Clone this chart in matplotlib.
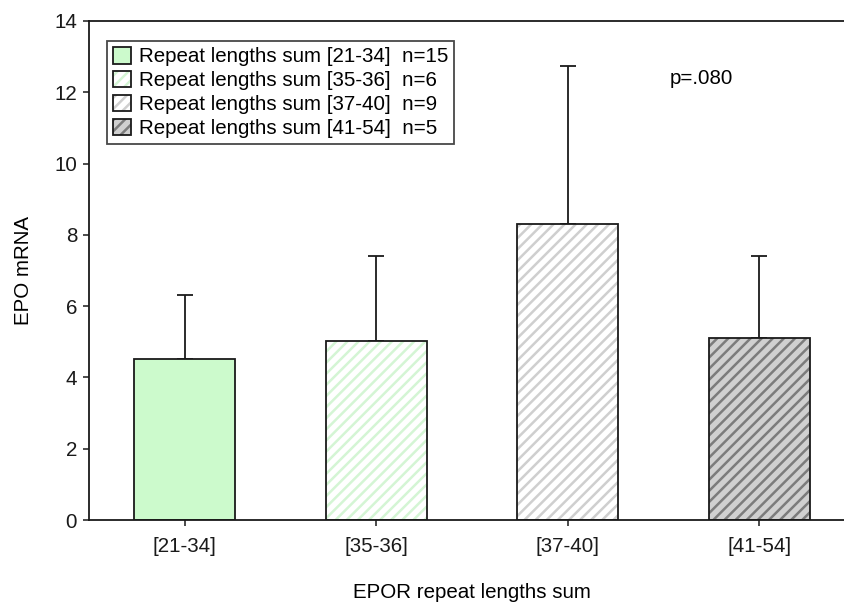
import matplotlib
matplotlib.use("Agg")
import matplotlib.pyplot as plt
from matplotlib.patches import Patch

plt.rcParams['font.family'] = ['Liberation Sans', 'DejaVu Sans']
plt.rcParams['hatch.linewidth'] = 1.8

# data
categories = ['[21-34]', '[35-36]', '[37-40]', '[41-54]']
means = [4.52, 5.03, 8.30, 5.10]
upper_err = [1.78, 2.38, 4.45, 2.30]
group_n = [15, 6, 9, 5]
p_text = 'p=.080'

# look of each bar: fill, hatch, hatch colour
fills = ['#ccfacc', '#ffffff', '#ffffff', '#d0d0d0']
hatches = ['', '///', '///', '///']
hatch_cols = ['#ccfacc', '#d4f5d4', '#cfcfcf', '#7c7c7c']
FS = 14.8

fig = plt.figure(figsize=(8.45, 6.03), dpi=100)
ax = fig.add_axes([0.1053, 0.1376, 0.9065, 0.8276])

x = list(range(len(categories)))
w = 0.527

# hatched fill first, then outline on top
for i in x:
    ax.bar(i, means[i], w, color=fills[i], hatch=hatches[i],
           edgecolor=hatch_cols[i], linewidth=0, zorder=2)
ax.bar(x, means, w, facecolor='none', edgecolor='#1a1a1a', linewidth=1.3, zorder=3)
ax.errorbar(x, means, yerr=[[0] * 4, upper_err], fmt='none', ecolor='#1a1a1a',
            elinewidth=1.3, capsize=5.8, capthick=1.3, zorder=1)

ax.set_xlim(-0.5, 3.5)
ax.set_ylim(0, 14)
ax.set_yticks(range(0, 15, 2))
ax.set_xticks(x)
ax.set_xticklabels(categories)
ax.tick_params(labelsize=FS, width=1.1, length=4.5, direction='out', colors='#1a1a1a')
ax.tick_params(axis='x', pad=8)
ax.tick_params(axis='y', pad=4)
for s in ax.spines.values():
    s.set_linewidth(1.3)
    s.set_color('#1a1a1a')

ax.set_xlabel('EPOR repeat lengths sum', fontsize=FS, labelpad=19)
ax.set_ylabel('EPO mRNA', fontsize=FS, labelpad=15)

ax.text(2.70, 12.4, p_text, fontsize=FS, ha='center', va='center')

handles = []
for i, c in enumerate(categories):
    lbl = 'Repeat lengths sum %s  n=%d' % (c, group_n[i])
    fill = Patch(facecolor=fills[i], hatch=hatches[i], edgecolor=hatch_cols[i], linewidth=0)
    edge = Patch(facecolor='none', edgecolor='#1a1a1a', linewidth=1.3)
    handles.append(((fill, edge), lbl))
leg = ax.legend([h for h, _ in handles], [l for _, l in handles],
                loc='upper left', bbox_to_anchor=(0.0235, 0.96),
                borderaxespad=0, fontsize=FS, frameon=True, fancybox=False,
                edgecolor='#1a1a1a', handlelength=0.85, handleheight=0.85,
                handletextpad=0.4, labelspacing=0.22, borderpad=0.3)
leg.get_frame().set_linewidth(1.3)

fig.savefig('out.png', dpi=100)
